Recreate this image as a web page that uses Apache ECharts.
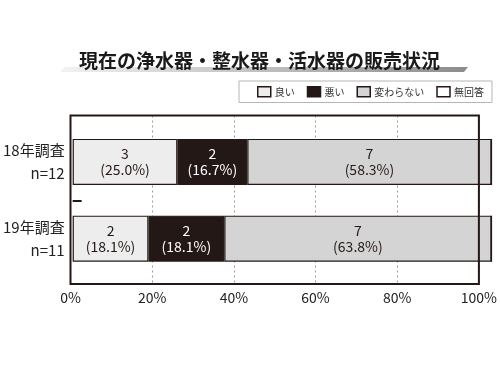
<!DOCTYPE html>
<html>
<head>
<meta charset="utf-8">
<script src="https://cdn.jsdelivr.net/npm/echarts@6/dist/echarts.min.js"></script>
<style>html,body{margin:0;padding:0;background:#fff}#c{width:500px;height:375px}</style>
</head>
<body>
<div id="c"></div>
<script>
const titleText = '現在の浄水器・整水器・活水器の販売状況';
const categories = ['18年調査', '19年調査'];
const sampleSizes = ['n=12', 'n=11'];
const seriesNames = ['良い', '悪い', '変わらない', '無回答'];
const goodPct = [25.0, 18.1];
const badPct = [16.7, 18.1];
const samePct = [58.3, 63.8];
const noAnswerPct = [0, 0];
const goodCount = [3, 2];
const badCount = [2, 2];
const sameCount = [7, 7];
const noAnswerCount = [0, 0];
const xTicks = [0, 20, 40, 60, 80, 100];

const FONT = '"Noto Sans CJK JP", "Noto Sans", sans-serif';
const DARK = '#231815';
const fills = ['#ededed', DARK, '#d4d4d4', '#ffffff'];
const labelColors = [DARK, '#ffffff', DARK, DARK];
const pcts = [goodPct, badPct, samePct, noAnswerPct];
const counts = [goodCount, badCount, sameCount, noAnswerCount];

const chart = echarts.init(document.getElementById('c'), null, {renderer: 'canvas'});

const series = seriesNames.map((name, si) => ({
  name: name,
  type: 'bar',
  stack: 'total',
  xAxisIndex: 1,
  yAxisIndex: 1,
  barWidth: 46,
  data: pcts[si],
  itemStyle: {color: fills[si], borderColor: DARK, borderWidth: 1.2},
  label: {
    show: si < 3,
    position: 'inside',
    fontFamily: FONT,
    fontSize: 14,
    lineHeight: 16,
    color: labelColors[si],
    formatter: p => counts[si][p.dataIndex] + '\n(' + pcts[si][p.dataIndex].toFixed(1) + '%)'
  },
  z: 2
}));

chart.setOption({
  animation: false,
  backgroundColor: '#fff',
  title: {
    text: titleText,
    left: 79,
    top: 51,
    padding: 0,
    textStyle: {fontFamily: FONT, fontSize: 19, fontWeight: 'bold', color: '#1a1a1a'},
    z: 10
  },
  graphic: [{
    type: 'polygon',
    z: 1,
    shape: {points: [[60, 72], [65, 67], [468, 67], [464, 72]]},
    style: {
      fill: new echarts.graphic.LinearGradient(0, 0, 1, 0, [
        {offset: 0, color: '#f2f2f2'},
        {offset: 1, color: '#8c8c8c'}
      ])
    }
  }],
  legend: {
    data: seriesNames,
    left: 239,
    top: 81,
    padding: [5, 8, 5, 18],
    borderColor: '#b5b5b5',
    borderWidth: 1,
    itemWidth: 13,
    itemHeight: 10,
    itemGap: 12,
    icon: 'rect',
    itemStyle: {borderColor: DARK, borderWidth: 1.5},
    textStyle: {fontFamily: FONT, fontSize: 10, color: '#333', padding: [0, 0, 0, -1]}
  },
  grid: [
    {left: 70.5, right: 8.5, top: 115.5, bottom: 91, show: true, borderColor: DARK, borderWidth: 2, backgroundColor: 'transparent', z: 10},
    {left: 70.5, right: 8.5, top: 123.5, bottom: 98, containLabel: false}
  ],
  xAxis: [
    {
      gridIndex: 0, type: 'value', min: xTicks[0], max: xTicks[xTicks.length - 1], interval: 20,
      axisLine: {show: false}, axisTick: {show: false},
      axisLabel: {fontFamily: FONT, fontSize: 14, color: '#222', margin: 7, formatter: '{value}%'},
      splitLine: {show: true, lineStyle: {type: [2, 3], color: '#9a9a9a', width: 1}}
    },
    {
      gridIndex: 1, type: 'value', min: 0, max: 100, show: false
    }
  ],
  yAxis: [
    {gridIndex: 0, type: 'value', show: false},
    {
      gridIndex: 1, type: 'category', inverse: true, data: categories, position: 'left',
      axisLine: {show: false}, axisTick: {show: false},
      axisLabel: {
        fontFamily: FONT, fontSize: 15, lineHeight: 23, color: '#222', align: 'right', margin: 8,
        padding: [9, 0, 0, 0],
        formatter: (v, i) => v + '\n' + sampleSizes[i]
      }
    },
    {
      gridIndex: 1, type: 'value', min: 0, max: 2, z: 12, position: 'left', offset: 0,
      axisLine: {show: false, onZero: false}, axisLabel: {show: false}, splitLine: {show: false},
      axisTick: {show: true, inside: true, length: 9, customValues: [1], lineStyle: {color: DARK, width: 2}}
    }
  ],
  series: series
});
</script>
</body>
</html>
